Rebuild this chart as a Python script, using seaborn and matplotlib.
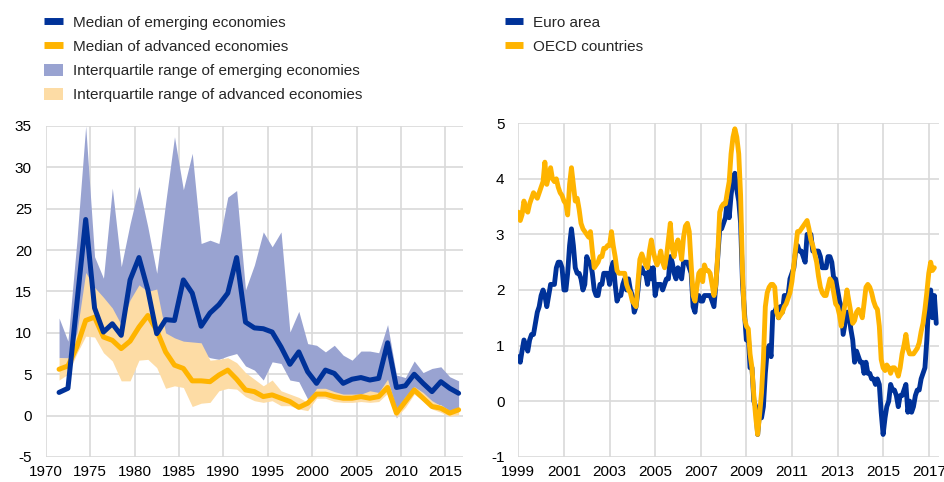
import numpy as np
import pandas as pd
import matplotlib
matplotlib.use("Agg")
import matplotlib.pyplot as plt
import matplotlib.dates as mdates
import seaborn as sns
from matplotlib.patches import Patch
from matplotlib.lines import Line2D

sns.set_style("white")
plt.rcParams['font.family'] = ['Liberation Sans', 'DejaVu Sans']
plt.rcParams['axes.unicode_minus'] = False

# left panel: annual data 1971-2016
years = np.arange(1971, 2017)
em_median = [2.8, 3.3, 13.5, 23.7, 13.0, 10.1, 11.1, 9.7, 16.4, 19.1,
             15.2, 9.9, 11.6, 11.5, 16.4, 14.8, 10.8, 12.4, 13.4, 14.8,
             19.1, 11.3, 10.6, 10.5, 10.1, 8.3, 6.2, 7.7, 5.3, 3.9,
             5.5, 5.1, 3.9, 4.4, 4.6, 4.3, 4.5, 8.8, 3.4, 3.6,
             5.0, 3.9, 2.9, 4.1, 3.3, 2.7]
adv_median = [5.6, 6.0, 8.3, 11.5, 11.9, 9.5, 9.1, 8.1, 9.0, 10.7,
              12.1, 10.3, 7.7, 6.1, 5.7, 4.2, 4.2, 4.1, 4.9, 5.5,
              4.4, 3.1, 2.9, 2.3, 2.5, 2.1, 1.7, 1.0, 1.5, 2.6,
              2.6, 2.3, 2.1, 2.1, 2.3, 2.1, 2.3, 3.4, 0.3, 1.7,
              3.1, 2.1, 1.1, 0.9, 0.3, 0.7]
em_q3 = [11.8, 9.0, 21.0, 35.0, 19.2, 16.6, 27.5, 18.0, 23.2, 27.7,
         22.8, 17.2, 25.7, 33.7, 27.3, 31.7, 20.8, 21.2, 20.8, 26.4,
         27.2, 15.2, 18.2, 22.2, 20.4, 22.2, 10.1, 12.6, 8.7, 8.5,
         7.7, 8.5, 7.3, 6.7, 7.8, 7.8, 7.6, 11.0, 4.9, 4.6,
         6.6, 5.2, 5.7, 5.9, 4.7, 4.2]
em_q1 = [7.0, 6.9, 9.0, 12.0, 10.0, 9.0, 8.5, 8.0, 9.0, 11.0,
         10.0, 9.0, 9.5, 9.0, 8.5, 8.0, 7.5, 7.0, 6.8, 7.2,
         7.5, 6.0, 5.5, 4.3, 6.5, 6.3, 4.3, 4.1, 2.0, 2.2,
         2.5, 2.4, 2.2, 2.2, 2.4, 2.2, 2.4, 3.5, -0.3, 1.8,
         3.2, 2.2, 1.5, 1.3, 0.6, 0.6]
adv_q3 = [7.0, 7.0, 10.0, 17.3, 15.5, 14.3, 13.0, 11.0, 14.0, 15.8,
          15.0, 15.3, 10.0, 9.4, 9.0, 8.9, 8.8, 6.7, 6.8, 7.0,
          6.4, 5.2, 4.4, 3.6, 4.3, 3.0, 2.6, 2.2, 1.6, 3.3,
          3.3, 2.9, 2.6, 2.6, 2.6, 3.0, 2.8, 4.4, 0.8, 2.3,
          3.5, 2.8, 1.8, 1.2, 0.5, 1.0]
adv_q1 = [4.3, 5.0, 7.5, 9.6, 9.5, 7.6, 6.6, 4.2, 4.2, 6.7,
          6.8, 5.8, 3.3, 3.6, 3.4, 1.1, 1.5, 1.6, 3.0, 3.3,
          3.2, 2.3, 1.8, 1.6, 1.8, 1.2, 1.2, 0.8, 0.6, 2.1,
          2.1, 1.7, 1.6, 1.6, 1.7, 1.6, 1.7, 2.7, -0.2, 1.0,
          2.6, 1.8, 0.8, 0.4, -0.1, 0.1]

# right panel: monthly data Jan 1999 - May 2017
euro_area = [
    0.8, 0.7, 0.9, 1.1, 1.0, 0.9, 1.1, 1.2, 1.2, 1.4, 1.6, 1.7,
    1.9, 2.0, 1.9, 1.7, 1.9, 2.1, 2.1, 2.1, 2.4, 2.5, 2.5, 2.4,
    2.0, 2.0, 2.3, 2.8, 3.1, 2.8, 2.4, 2.3, 2.3, 2.2, 2.0, 2.1,
    2.6, 2.5, 2.5, 2.3, 2.0, 1.9, 1.9, 2.1, 2.1, 2.3, 2.3, 2.3,
    2.1, 2.4, 2.5, 2.1, 1.8, 1.9, 1.9, 2.1, 2.2, 2.0, 2.2, 2.0,
    1.9, 1.6, 1.7, 2.0, 2.4, 2.4, 2.3, 2.3, 2.1, 2.4, 2.2, 2.4,
    1.9, 2.1, 2.1, 2.1, 2.0, 2.1, 2.2, 2.2, 2.6, 2.5, 2.3, 2.2,
    2.4, 2.3, 2.2, 2.5, 2.5, 2.5, 2.4, 2.3, 1.7, 1.6, 1.9, 1.9,
    1.8, 1.8, 1.9, 1.9, 1.9, 1.9, 1.8, 1.7, 2.1, 2.6, 3.1, 3.1,
    3.2, 3.3, 3.6, 3.3, 3.7, 4.0, 4.1, 3.8, 3.6, 3.2, 2.1, 1.6,
    1.1, 1.2, 0.6, 0.6, 0.0, -0.1, -0.6, -0.2, -0.3, -0.1, 0.5, 0.9,
    1.0, 0.8, 1.6, 1.6, 1.7, 1.5, 1.7, 1.6, 1.9, 1.9, 1.9, 2.2,
    2.3, 2.4, 2.7, 2.8, 2.7, 2.7, 2.6, 2.5, 3.0, 3.0, 3.0, 2.7,
    2.7, 2.7, 2.7, 2.6, 2.4, 2.4, 2.4, 2.6, 2.6, 2.5, 2.2, 2.2,
    2.0, 1.8, 1.7, 1.2, 1.4, 1.6, 1.6, 1.3, 1.1, 0.7, 0.9, 0.8,
    0.7, 0.7, 0.5, 0.7, 0.5, 0.5, 0.4, 0.4, 0.3, 0.4, 0.3, -0.2,
    -0.6, -0.3, -0.1, 0.0, 0.3, 0.2, 0.2, 0.1, -0.1, 0.1, 0.1, 0.2,
    0.3, -0.2, 0.0, -0.2, -0.1, 0.1, 0.2, 0.2, 0.4, 0.5, 0.6, 1.1,
    1.8, 2.0, 1.5, 1.9, 1.4]
oecd = [
    3.4, 3.25, 3.35, 3.6, 3.45, 3.4, 3.55, 3.65, 3.75, 3.7, 3.65, 3.75,
    3.85, 3.95, 4.3, 3.9, 4.05, 4.2, 4.0, 3.95, 4.0, 3.85, 3.75, 3.7,
    3.6, 3.55, 3.35, 3.9, 4.2, 3.9, 3.6, 3.65, 3.45, 3.2, 3.1, 3.05,
    3.0, 2.95, 3.05, 2.7, 2.4, 2.45, 2.5, 2.6, 2.6, 2.75, 2.75, 2.8,
    2.8, 3.05, 2.8, 2.6, 2.35, 2.3, 2.3, 2.3, 2.3, 2.1, 2.0, 1.95,
    1.8, 1.75, 1.7, 2.15, 2.55, 2.65, 2.55, 2.45, 2.4, 2.7, 2.9, 2.7,
    2.55, 2.45, 2.55, 2.7, 2.5, 2.4, 2.6, 2.9, 3.2, 2.75, 2.6, 2.8,
    2.9, 2.75, 2.55, 2.95, 3.15, 3.2, 3.05, 2.45, 1.9, 1.8, 2.05, 2.3,
    2.35, 2.15, 2.45, 2.35, 2.35, 2.3, 2.1, 1.9, 2.1, 2.65, 3.4, 3.5,
    3.55, 3.55, 3.75, 3.95, 4.45, 4.75, 4.9, 4.75, 4.45, 3.7, 2.3, 1.5,
    1.35, 1.3, 0.85, 0.6, 0.1, -0.3, -0.6, -0.25, 0.15, 0.75, 1.7, 1.95,
    2.05, 2.1, 2.1, 2.05, 1.6, 1.5, 1.55, 1.6, 1.7, 1.75, 1.85, 1.95,
    2.15, 2.45, 2.75, 3.05, 3.05, 3.1, 3.15, 3.2, 3.25, 3.1, 2.9, 2.8,
    2.65, 2.5, 2.25, 2.05, 1.95, 1.9, 1.9, 2.05, 2.2, 2.15, 1.95, 1.75,
    1.7, 1.55, 1.35, 1.55, 1.75, 2.0, 1.8, 1.6, 1.4, 1.45, 1.6, 1.65,
    1.6, 1.5, 1.75, 2.05, 2.1, 2.05, 1.95, 1.8, 1.7, 1.65, 1.35, 0.75,
    0.6, 0.55, 0.65, 0.6, 0.5, 0.6, 0.6, 0.55, 0.45, 0.6, 0.85, 1.0,
    1.2, 0.95, 0.85, 0.85, 0.85, 0.9, 0.95, 1.05, 1.25, 1.4, 1.65, 1.95,
    2.3, 2.5, 2.35, 2.4]

blue = "#003299"
orange = "#FFB400"
em_band = "#99A3D1"
adv_band = "#FDDCA5"
grid_col = "#D9D9D9"

left = pd.DataFrame({"year": years + 0.5,  # annual values sit mid-year
                     "em": em_median, "adv": adv_median})
months_e = pd.date_range("1999-01-01", periods=len(euro_area), freq="MS")
months_o = pd.date_range("1999-01-01", periods=len(oecd), freq="MS")

fig = plt.figure(figsize=(9.45, 4.82), dpi=100)
ax1 = fig.add_axes([0.0484, 0.0519, 0.4416, 0.6867])
ax2 = fig.add_axes([0.5485, 0.0525, 0.4452, 0.6918])

ax1.fill_between(left["year"], em_q1, em_q3, color=em_band, lw=0)
ax1.fill_between(left["year"], adv_q1, adv_q3, color=adv_band, lw=0)
sns.lineplot(data=left, x="year", y="adv", ax=ax1, color=orange, lw=3.6)
sns.lineplot(data=left, x="year", y="em", ax=ax1, color=blue, lw=3.6)
ax1.set_xlim(1970, 2017)
ax1.set_ylim(-5, 35)
ax1.set_xticks(np.arange(1970, 2016, 5))
ax1.set_yticks(np.arange(-5, 36, 5))

sns.lineplot(x=months_e, y=euro_area, ax=ax2, color=blue, lw=3.5)
sns.lineplot(x=months_o, y=oecd, ax=ax2, color=orange, lw=3.5)
ax2.set_xlim(pd.Timestamp("1999-01-01"), pd.Timestamp("2017-06-15"))
ax2.set_ylim(-1, 5)
ax2.set_yticks(np.arange(-1, 6, 1))
ax2.set_xticks(pd.date_range("1999-01-01", "2017-01-01", freq="24MS"))
ax2.xaxis.set_major_formatter(mdates.DateFormatter("%Y"))

for ax in (ax1, ax2):
    ax.set_xlabel("")
    ax.set_ylabel("")
    ax.grid(True, color=grid_col, lw=1.2)
    ax.set_axisbelow(True)
    for s in ax.spines.values():
        s.set_visible(False)
    ax.tick_params(length=0, labelsize=11, colors="black")
    ax.tick_params(axis="x", pad=6)
    ax.tick_params(axis="y", pad=10)

h1 = [Line2D([], [], color=blue, lw=5, solid_capstyle="butt"),
      Line2D([], [], color=orange, lw=5, solid_capstyle="butt"),
      Patch(color=em_band, lw=0),
      Patch(color=adv_band, lw=0)]
l1 = ["Median of emerging economies", "Median of advanced economies",
      "Interquartile range of emerging economies",
      "Interquartile range of advanced economies"]
fig.legend(h1, l1, loc="upper left", bbox_to_anchor=(0.047, 0.968),
           frameon=False, fontsize=11, handlelength=1.2, handleheight=0.9,
           handletextpad=0.65, labelspacing=0.62, borderpad=0, borderaxespad=0)

h2 = [Line2D([], [], color=blue, lw=5, solid_capstyle="butt"),
      Line2D([], [], color=orange, lw=5, solid_capstyle="butt")]
fig.legend(h2, ["Euro area", "OECD countries"], loc="upper left",
           bbox_to_anchor=(0.534, 0.968), frameon=False, fontsize=11,
           handlelength=1.2, handleheight=0.9, handletextpad=0.65,
           labelspacing=0.62, borderpad=0, borderaxespad=0)

fig.savefig("out.png", dpi=100)
